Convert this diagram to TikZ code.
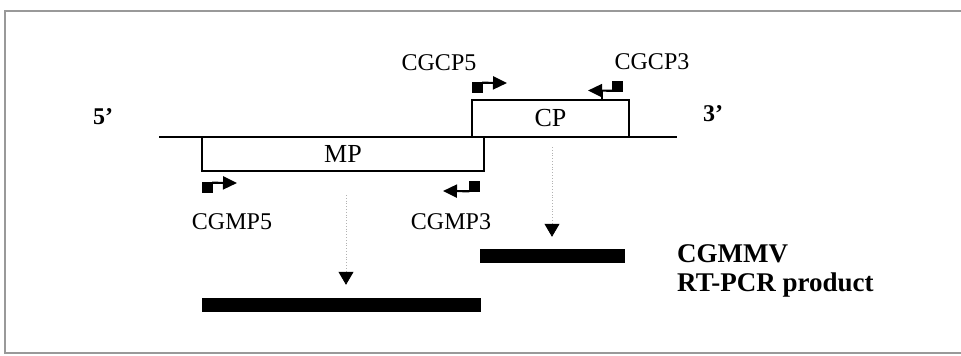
\documentclass[tikz,border=0pt]{standalone}
\usepackage{fontspec}
\setmainfont{Liberation Serif}
\usetikzlibrary{arrows.meta}
\tikzset{
  gene/.style={draw=black, line width=1.8pt, minimum width=#1, inner sep=0pt},
  sq/.style={fill=black, draw=none, minimum size=11pt, inner sep=0pt},
  primer/.style={line width=2.2pt, -{Triangle[length=14pt,width=13pt]}},
  bar/.style={fill=black, draw=none, inner sep=0pt},
  dotline/.style={draw=black!30, line width=0.8pt, dotted, -{Triangle[length=13pt,width=15pt,black]}},
  lab/.style={font=\fontsize{24}{28}\selectfont, anchor=base, inner sep=0pt},
  bigl/.style={font=\fontsize{27}{31}\selectfont\bfseries, anchor=base west, inner sep=0pt},
  endl/.style={font=\fontsize{24}{28}\selectfont\bfseries, anchor=base west, inner sep=0pt}
}
\begin{document}
\begin{tikzpicture}[x=1pt,y=-1pt]
\useasboundingbox (0,0) rectangle (961,356);
% frame
\draw[black!40, line width=1.2pt] (961,11) -- (5,11) -- (5,353) -- (961,353);
% genome line
\coordinate (l5) at (159,137);
\coordinate (l3) at (677,137);
\draw[line width=2pt] (l5) -- (l3);
% boxes
\node[gene=282pt, minimum height=34pt, font=\fontsize{26}{30}\selectfont] (mp) at (343,154) {MP};
\node[gene=157pt, minimum height=37pt, font=\fontsize{26}{30}\selectfont] (cp) at (550.5,118.5) {CP};
% end labels
\node[endl] (five) at (93,124) {5'};
\node[endl] (three) at (703,121) {3'};
% primer labels
\node[lab] (tcp5) at (439,70) {CGCP5};
\node[lab] (tcp3) at (652,69) {CGCP3};
\node[lab] (tmp5) at (232,229) {CGMP5};
\node[lab] (tmp3) at (451,229) {CGMP3};
% primers
\node[sq] (cp5sq) at (477.5,87.5) {};
\coordinate (cp5tip) at (507,83);
\draw[primer] ([shift={(-1,1)}]cp5sq.north east) -- (cp5tip);
\node[sq] (cp3sq) at (617.5,86) {};
\coordinate (cp3tip) at (588,90.5);
\coordinate (cp3bend) at (602,90.5);
\draw[primer] ([shift={(1,-1)}]cp3sq.south west) -- (cp3tip);
\draw[line width=1.6pt] (cp3bend) -- (cp3bend |- cp.north);
\node[sq] (mp5sq) at (207.5,187.5) {};
\coordinate (mp5tip) at (237,183);
\draw[primer] ([shift={(-1,1)}]mp5sq.north east) -- (mp5tip);
\node[sq] (mp3sq) at (474,186.5) {};
\coordinate (mp3tip) at (443,191);
\draw[primer] ([shift={(1,-1)}]mp3sq.south west) -- (mp3tip);
% products
\node[bar, minimum width=279pt, minimum height=14pt] (mpbar) at (341.5,305) {};
\node[bar, minimum width=145pt, minimum height=14pt] (cpbar) at (552.5,256) {};
\coordinate (mpd) at (346,195);
\coordinate (cpd) at (552,147);
\draw[dotline] (mpd) -- ([yshift=13pt]mpd |- mpbar.north);
\draw[dotline] (cpd) -- ([yshift=12pt]cpd |- cpbar.north);
% legend
\node[bigl] (leg1) at (677,262) {CGMMV};
\node[bigl] (leg2) at (677,291) {RT-PCR product};
\end{tikzpicture}
\end{document}
